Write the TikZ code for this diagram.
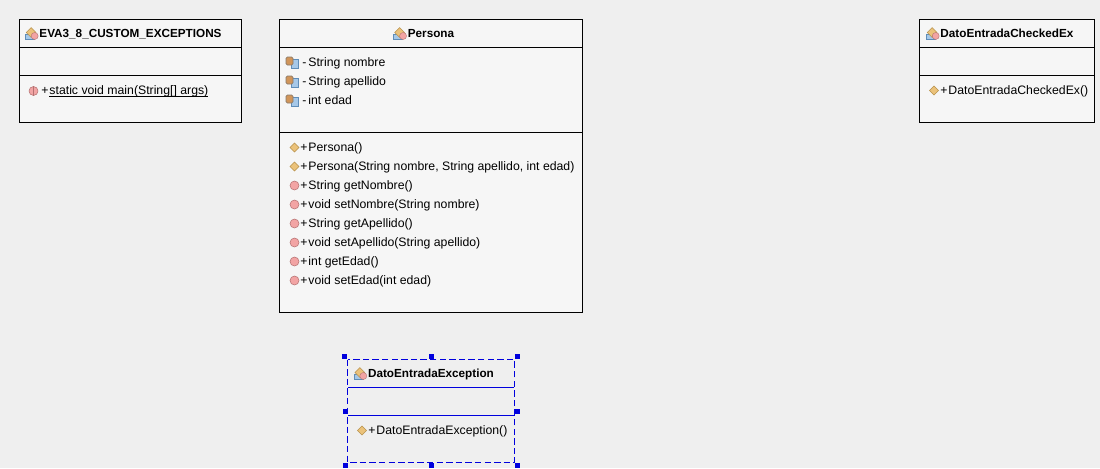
\documentclass[tikz,border=0pt]{standalone}
\usepackage{fontspec}
\setmainfont{Liberation Sans}
\usetikzlibrary{positioning, shapes.geometric}
\definecolor{pagebg}{HTML}{EFEFEF}
\definecolor{boxbg}{HTML}{F6F6F6}
\definecolor{handleblue}{HTML}{0000DD}
\definecolor{tanfill}{HTML}{EBC27A}
\definecolor{tanline}{HTML}{B8934F}
\definecolor{pinkfill}{HTML}{F2A4A4}
\definecolor{pinkline}{HTML}{B57272}
\definecolor{basefill}{HTML}{A6C8E8}
\definecolor{baseline}{HTML}{5F8DB8}
\definecolor{brownfill}{HTML}{D0955A}
\definecolor{brownline}{HTML}{8A7A6A}
\tikzset{
  compartment/.style={draw, fill=boxbg, line width=0.75pt, outer sep=0pt, inner sep=0pt, anchor=north west},
  selectedpart/.style={compartment, draw=handleblue, fill=pagebg, line width=0.85pt},
  titletext/.style={font=\fontsize{8.8}{10}\selectfont\bfseries, inner sep=0pt, text height=7pt, text depth=2pt},
  rowtext/.style={font=\fontsize{9.2}{10}\selectfont, inner sep=0pt, text height=7pt, text depth=2pt, anchor=west},
  ctoricon/.style={diamond, draw=tanline, fill=tanfill, line width=0.4pt, inner sep=0pt, minimum size=7pt},
  methodicon/.style={circle, draw=pinkline, fill=pinkfill, line width=0.4pt, inner sep=0pt, minimum size=6.75pt},
  handle/.style={rectangle, fill=handleblue, inner sep=0pt, minimum size=3.75pt},
  classicon/.pic={
    \fill[basefill, draw=baseline, line width=0.3pt] (-6,0) rectangle (3,5);
    \node[diamond, draw=tanline, fill=tanfill, line width=0.4pt, inner sep=0pt, minimum size=7.5pt] at (0,-2) {};
    \node[circle, draw=pinkline, fill=pinkfill, line width=0.3pt, inner sep=0pt, minimum size=5.25pt] at (3.5,1.5) {};
  },
  fieldicon/.pic={
    \fill[basefill, draw=baseline, line width=0.4pt] (-1,-3.5) rectangle (6,5.5);
    \fill[brownfill, draw=brownline, line width=0.5pt, rounded corners=1pt] (-6,-5.5) rectangle (1,2.5);
  }
}
\begin{document}
\begin{tikzpicture}[x=0.75pt, y=-0.75pt]
    \useasboundingbox[fill=pagebg] (0,0) rectangle (1100,468);

    % Main class
    \node[compartment, minimum width=166.5pt, minimum height=21pt] (mainhead) at (19.5,19.5) {};
    \node[compartment, minimum width=166.5pt, minimum height=21pt, below=0pt of mainhead.south west, anchor=north west] (mainattrs) {};
    \node[compartment, minimum width=166.5pt, minimum height=35.25pt, below=0pt of mainattrs.south west, anchor=north west] (mainmethods) {};
    \node[titletext, yshift=-0.75pt] (maintitle) at (mainhead.center) {EVA3\_8\_CUSTOM\_EXCEPTIONS};
    \pic at ([xshift=-6pt]maintitle.west) {classicon};
    \node[methodicon] (mainicon) at (33.5,91) {};
    \draw[pinkline, line width=0.6pt] (mainicon.north) -- (mainicon.south);
    \node[rowtext] (mainrow) at (41,91.5) {+\kern0.8pt\underline{\smash{static void main(String[] args)}}};

    % Persona
    \node[compartment, minimum width=227.25pt, minimum height=21pt] (personahead) at (279.5,19.5) {};
    \node[compartment, minimum width=227.25pt, minimum height=63.75pt, below=0pt of personahead.south west, anchor=north west] (personaattrs) {};
    \node[compartment, minimum width=227.25pt, minimum height=135pt, below=0pt of personaattrs.south west, anchor=north west] (personamethods) {};
    \node[titletext, yshift=-0.75pt] (personatitle) at (personahead.center) {Persona};
    \pic at ([xshift=-6pt]personatitle.west) {classicon};

    \pic at (292,62.5) {fieldicon};
    \pic at (292,81.5) {fieldicon};
    \pic at (292,100.5) {fieldicon};
    \node[rowtext] (nombrerow) at (302,63.5) {-\kern1.5pt String nombre};
    \node[rowtext] (apellidorow) at (302,82.5) {-\kern1.5pt String apellido};
    \node[rowtext] (edadrow) at (302,101.5) {-\kern1.5pt int edad};

    \node[ctoricon] (ctorone) at (294.5,147.5) {};
    \node[ctoricon] (ctortwo) at (294.5,166.5) {};
    \node[methodicon] (getnombre) at (294.5,185.5) {};
    \node[methodicon] (setnombre) at (294.5,204.5) {};
    \node[methodicon] (getapellido) at (294.5,223.5) {};
    \node[methodicon] (setapellido) at (294.5,242.5) {};
    \node[methodicon] (getedad) at (294.5,261.5) {};
    \node[methodicon] (setedad) at (294.5,280.5) {};
    \node[rowtext] (ctoronerow) at (300,148.5) {+\kern0.8pt Persona()};
    \node[rowtext] (ctortworow) at (300,167.5) {+\kern0.8pt Persona(String nombre, String apellido, int edad)};
    \node[rowtext] (getnombrerow) at (300,186.5) {+\kern0.8pt String getNombre()};
    \node[rowtext] (setnombrerow) at (300,205.5) {+\kern0.8pt void setNombre(String nombre)};
    \node[rowtext] (getapellidorow) at (300,224.5) {+\kern0.8pt String getApellido()};
    \node[rowtext] (setapellidorow) at (300,243.5) {+\kern0.8pt void setApellido(String apellido)};
    \node[rowtext] (getedadrow) at (300,262.5) {+\kern0.8pt int getEdad()};
    \node[rowtext] (setedadrow) at (300,281.5) {+\kern0.8pt void setEdad(int edad)};

    % Checked exception
    \node[compartment, minimum width=131.25pt, minimum height=21pt] (checkedhead) at (919.5,19.5) {};
    \node[compartment, minimum width=131.25pt, minimum height=21pt, below=0pt of checkedhead.south west, anchor=north west] (checkedattrs) {};
    \node[compartment, minimum width=131.25pt, minimum height=35.25pt, below=0pt of checkedattrs.south west, anchor=north west] (checkedmethods) {};
    \node[titletext, yshift=-0.75pt] (checkedtitle) at (checkedhead.center) {DatoEntradaCheckedEx};
    \pic at ([xshift=-6pt]checkedtitle.west) {classicon};
    \node[ctoricon] (checkedicon) at (934,90.5) {};
    \node[rowtext] (checkedrow) at (940,91.5) {+\kern0.8pt DatoEntradaCheckedEx()};

    % Selected exception
    \node[selectedpart, minimum width=125.25pt, minimum height=21pt] (exchead) at (347.5,359.5) {};
    \node[selectedpart, minimum width=125.25pt, minimum height=21pt, below=0pt of exchead.south west, anchor=north west] (excattrs) {};
    \node[selectedpart, minimum width=125.25pt, minimum height=35.25pt, below=0pt of excattrs.south west, anchor=north west] (excmethods) {};
    \draw[pagebg, line width=1pt] (exchead.north west) rectangle (excmethods.south east);
    \draw[handleblue, dash pattern=on 4.8pt off 2.4pt, line width=0.85pt] (exchead.north west) rectangle (excmethods.south east);
    \node[titletext, yshift=-0.75pt] (exctitle) at (exchead.center) {DatoEntradaException};
    \pic at ([xshift=-6pt]exctitle.west) {classicon};
    \node[ctoricon] (excicon) at (362,430.5) {};
    \node[rowtext] (excrow) at (368,431.5) {+\kern0.8pt DatoEntradaException()};

    % Selection handles
    \node[handle] (handlenw) at (344.5,356.5) {};
    \node[handle] (handlen) at (431.5,356.5) {};
    \node[handle] (handlene) at (517.5,356.5) {};
    \node[handle] (handlew) at (345,411.5) {};
    \node[handle] (handlee) at (517.5,411.5) {};
    \node[handle] (handlesw) at (345,465) {};
    \node[handle] (handles) at (431.5,465) {};
    \node[handle] (handlese) at (517.5,465) {};
  \end{tikzpicture}
\end{document}
